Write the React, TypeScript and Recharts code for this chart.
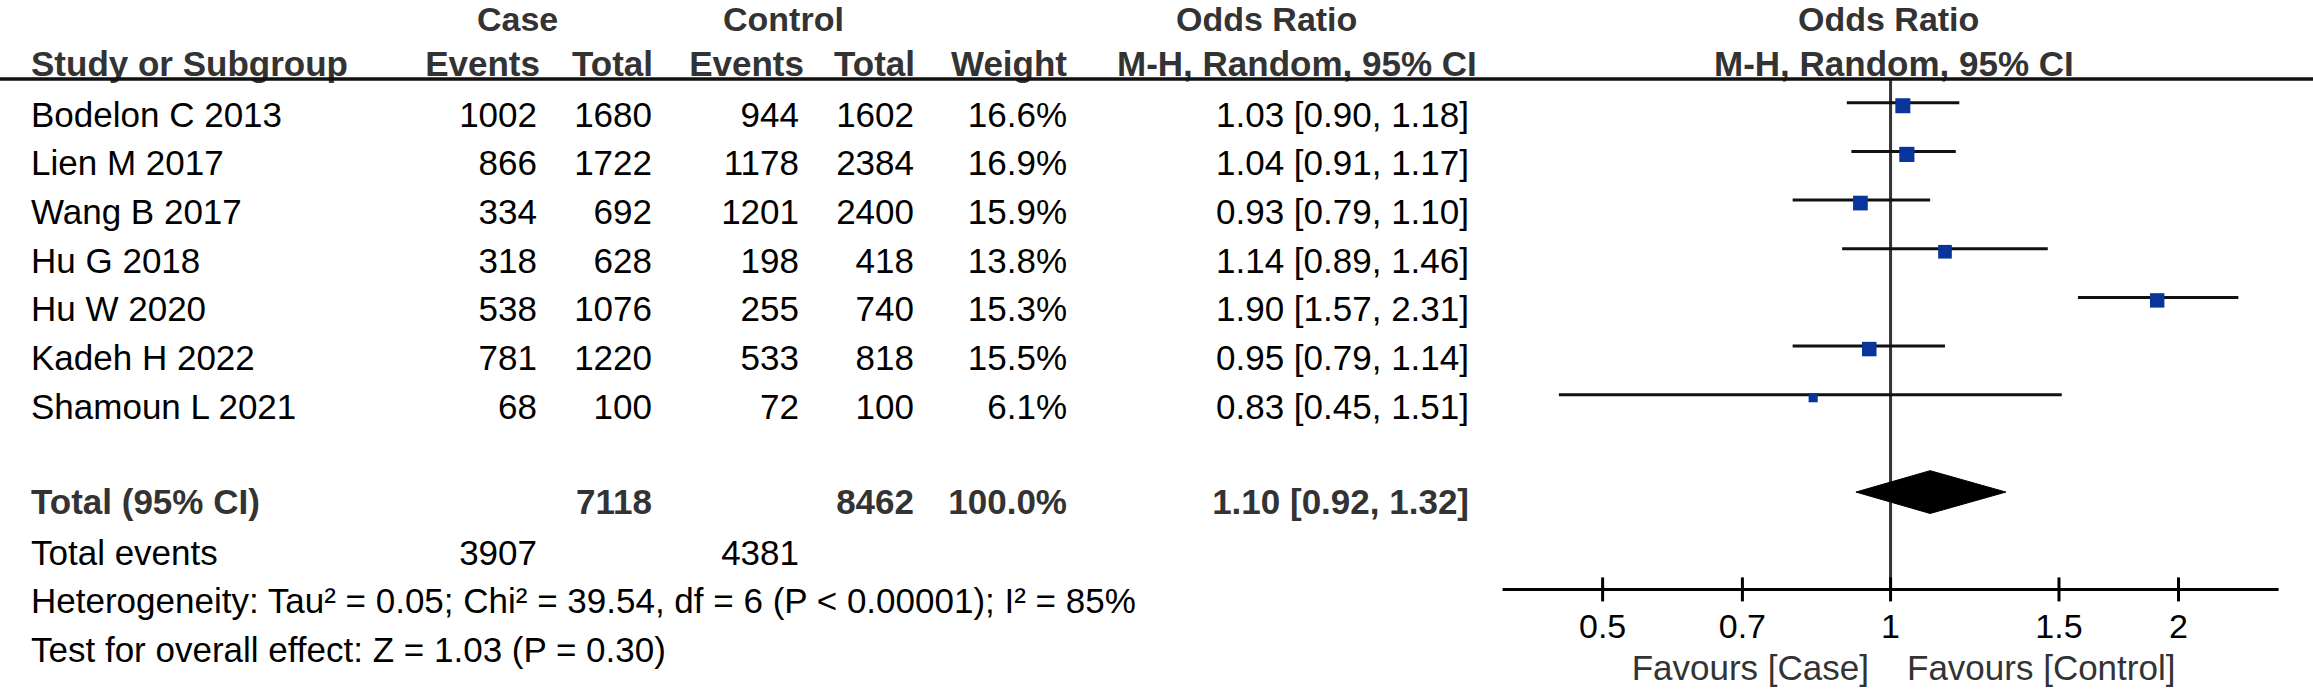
import React from "react";
import { ScatterChart, Scatter, XAxis, YAxis, ReferenceLine } from "recharts";

// ---- data ----
const studies = [
  "Bodelon C 2013",
  "Lien M 2017",
  "Wang B 2017",
  "Hu G 2018",
  "Hu W 2020",
  "Kadeh H 2022",
  "Shamoun L 2021",
];
const caseEvents = [1002, 866, 334, 318, 538, 781, 68];
const caseTotals = [1680, 1722, 692, 628, 1076, 1220, 100];
const controlEvents = [944, 1178, 1201, 198, 255, 533, 72];
const controlTotals = [1602, 2384, 2400, 418, 740, 818, 100];
const weights = [16.6, 16.9, 15.9, 13.8, 15.3, 15.5, 6.1];
const oddsRatios = [1.03, 1.04, 0.93, 1.14, 1.9, 0.95, 0.83];
const ciLow = [0.9, 0.91, 0.79, 0.89, 1.57, 0.79, 0.45];
const ciHigh = [1.18, 1.17, 1.1, 1.46, 2.31, 1.14, 1.51];

const pooledOR = 1.1;
const pooledLow = 0.92;
const pooledHigh = 1.32;
const pooledCaseTotal = 7118;
const pooledControlTotal = 8462;
const pooledCaseEvents = 3907;
const pooledControlEvents = 4381;

const xTicks = [0.5, 0.7, 1, 1.5, 2];
const xDomain = [0.393, 2.545];

// ---- layout ----
const W = 2313;
const H = 691;
const PLOT_LEFT = 1502.6;
const PLOT_RIGHT = 2278.6;
const PLOT_TOP = 78.4;
const PLOT_BOTTOM = 589.4;
const Y_MIN = -0.5;
const Y_MAX = 10;
const TOTAL_ROW = 8;
const DIAMOND_HALF = 0.44;
const FONT = "'Liberation Sans', Arial, Helvetica, sans-serif";
const SQUARE_COLOR = "#08349c";

const rowY = (i: number) =>
  PLOT_TOP + ((i - Y_MIN) * (PLOT_BOTTOM - PLOT_TOP)) / (Y_MAX - Y_MIN);

const fmtCI = (or: number, lo: number, hi: number) =>
  `${or.toFixed(2)} [${lo.toFixed(2)}, ${hi.toFixed(2)}]`;

const squareData = studies.map((s, i) => ({ name: s, x: oddsRatios[i], y: i, w: weights[i] }));
const diamondData = [
  { x: pooledLow, y: TOTAL_ROW },
  { x: pooledOR, y: TOTAL_ROW - DIAMOND_HALF },
  { x: pooledHigh, y: TOTAL_ROW },
  { x: pooledOR, y: TOTAL_ROW + DIAMOND_HALF },
  { x: pooledLow, y: TOTAL_ROW },
];

function WeightSquare(props: any) {
  const { cx, cy, payload } = props;
  const side = 15 * Math.sqrt(payload.w / 16.6);
  return <rect x={cx - side / 2} y={cy - side / 2 + 3} width={side} height={side} fill={SQUARE_COLOR} />;
}

function OrTick(props: any) {
  const { x, y, payload } = props;
  return (
    <g>
      <line x1={x} x2={x} y1={y - 12} y2={y + 12} stroke="#000" strokeWidth={3} />
      <text x={x} y={y + 49} textAnchor="middle" fontSize={34} fontFamily={FONT} fill="#000">
        {String(payload.value)}
      </text>
    </g>
  );
}

function Table() {
  const head = { fontFamily: FONT, fontSize: 35, fontWeight: 700, fill: "#333" };
  const top = { ...head, fontSize: 34 };
  const body = { fontFamily: FONT, fontSize: 35, fill: "#000" };
  const bl = (i: number) => rowY(i) + 24;
  return (
    <svg width={W} height={H} style={{ position: "absolute", left: 0, top: 0, pointerEvents: "none" }}>
      {/* header */}
      <text {...top} x={477} y={31}>Case</text>
      <text {...top} x={723} y={31}>Control</text>
      <text {...top} x={1176} y={31}>Odds Ratio</text>
      <text {...top} x={1798} y={31}>Odds Ratio</text>
      <text {...head} x={31} y={75.5}>Study or Subgroup</text>
      <text {...head} x={540} y={75.5} textAnchor="end">Events</text>
      <text {...head} x={653} y={75.5} textAnchor="end">Total</text>
      <text {...head} x={804} y={75.5} textAnchor="end">Events</text>
      <text {...head} x={915} y={75.5} textAnchor="end">Total</text>
      <text {...head} x={1067} y={75.5} textAnchor="end">Weight</text>
      <text {...head} x={1117} y={75.5}>M-H, Random, 95% CI</text>
      <text {...head} x={1714} y={75.5}>M-H, Random, 95% CI</text>
      <line x1={0} x2={W} y1={79} y2={79} stroke="#111" strokeWidth={3.5} />

      {/* study rows */}
      {studies.map((s, i) => (
        <g key={s}>
          <text {...body} x={31} y={bl(i)}>{s}</text>
          <text {...body} x={537} y={bl(i)} textAnchor="end">{caseEvents[i]}</text>
          <text {...body} x={652} y={bl(i)} textAnchor="end">{caseTotals[i]}</text>
          <text {...body} x={799} y={bl(i)} textAnchor="end">{controlEvents[i]}</text>
          <text {...body} x={914} y={bl(i)} textAnchor="end">{controlTotals[i]}</text>
          <text {...body} x={1067} y={bl(i)} textAnchor="end">{weights[i].toFixed(1)}%</text>
          <text {...body} x={1469} y={bl(i)} textAnchor="end">{fmtCI(oddsRatios[i], ciLow[i], ciHigh[i])}</text>
        </g>
      ))}

      {/* totals */}
      <text {...head} x={31} y={bl(TOTAL_ROW) - 2}>Total (95% CI)</text>
      <text {...head} x={652} y={bl(TOTAL_ROW) - 2} textAnchor="end">{pooledCaseTotal}</text>
      <text {...head} x={914} y={bl(TOTAL_ROW) - 2} textAnchor="end">{pooledControlTotal}</text>
      <text {...head} x={1067} y={bl(TOTAL_ROW) - 2} textAnchor="end">100.0%</text>
      <text {...head} x={1469} y={bl(TOTAL_ROW) - 2} textAnchor="end">{fmtCI(pooledOR, pooledLow, pooledHigh)}</text>

      <text {...body} x={31} y={bl(9)}>Total events</text>
      <text {...body} x={537} y={bl(9)} textAnchor="end">{pooledCaseEvents}</text>
      <text {...body} x={799} y={bl(9)} textAnchor="end">{pooledControlEvents}</text>
      <text {...body} x={31} y={bl(10)}>
        Heterogeneity: Tau² = 0.05; Chi² = 39.54, df = 6 (P &lt; 0.00001); I² = 85%
      </text>
      <text {...body} x={31} y={bl(11)}>Test for overall effect: Z = 1.03 (P = 0.30)</text>

      {/* favours labels */}
      <text fontFamily={FONT} fontSize={35} fill="#333" x={1869} y={680} textAnchor="end">Favours [Case]</text>
      <text fontFamily={FONT} fontSize={35} fill="#333" x={1907} y={680}>Favours [Control]</text>
    </svg>
  );
}

export default function App() {
  return (
    <div style={{ position: "relative", width: W, height: H, background: "#fff" }}>
      <style>{"body{margin:0}"}</style>
      <ScatterChart
        width={W}
        height={H}
        margin={{ top: PLOT_TOP, right: W - PLOT_RIGHT, bottom: H - PLOT_BOTTOM - 60, left: PLOT_LEFT }}
      >
        <XAxis
          type="number"
          dataKey="x"
          scale="log"
          domain={xDomain}
          ticks={xTicks}
          interval={0}
          allowDataOverflow
          height={60}
          axisLine={{ stroke: "#000", strokeWidth: 3 }}
          tickLine={false}
          tickSize={0}
          tickMargin={0}
          tick={(p: any) => <OrTick {...p} />}
        />
        <YAxis type="number" dataKey="y" domain={[Y_MIN, Y_MAX]} reversed hide width={0} />
        <ReferenceLine x={1} stroke="#333" strokeWidth={3} />
        {studies.map((s, i) => (
          <ReferenceLine
            key={s}
            segment={[
              { x: ciLow[i], y: i },
              { x: ciHigh[i], y: i },
            ]}
            stroke="#111"
            strokeWidth={3}
          />
        ))}
        <Scatter
          data={diamondData}
          isAnimationActive={false}
          line={{ stroke: "#000", strokeWidth: 1, fill: "#000" }}
          lineJointType="linear"
          shape={() => <g />}
        />
        <Scatter data={squareData} isAnimationActive={false} shape={(p: any) => <WeightSquare {...p} />} zIndex={1000} />
      </ScatterChart>
      <Table />
    </div>
  );
}
